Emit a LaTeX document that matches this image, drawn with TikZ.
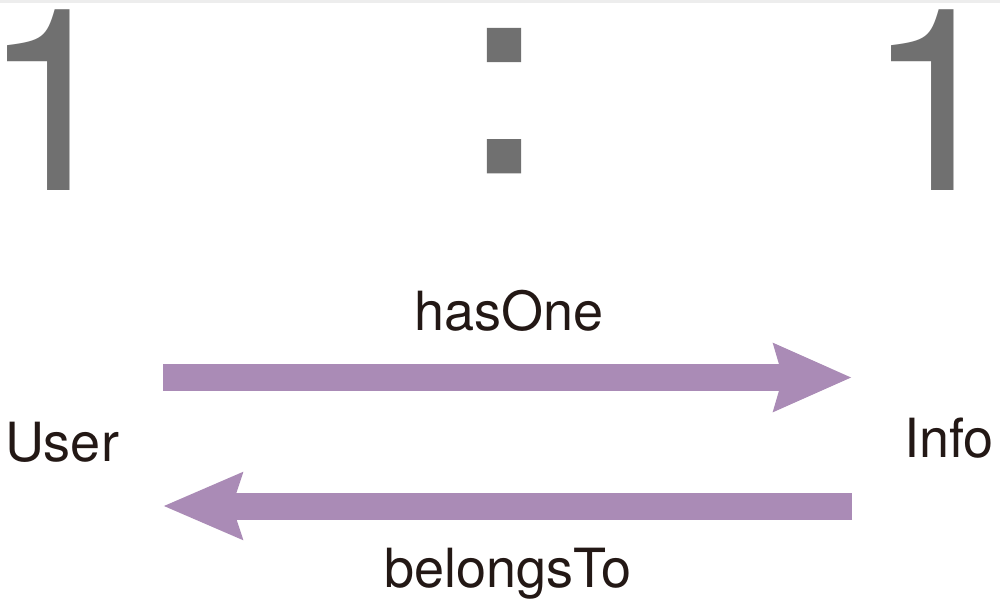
\documentclass[tikz,border=0pt]{standalone}
\usepackage{fontspec}
\setmainfont{TeX Gyre Heros}
\newfontfamily\colonfont[FakeBold=2.5]{TeX Gyre Heros}
\usetikzlibrary{arrows.meta}
\definecolor{arrowpurple}{HTML}{AA8BB6}
\definecolor{digitgray}{HTML}{707070}
\definecolor{textblack}{HTML}{231815}
\newcommand{\inkone}{\kern-28pt 1\kern-46pt}
\begin{document}
\begin{tikzpicture}[x=1pt,y=-1pt,
  digit/.style={inner sep=0pt, anchor=base west, text=digitgray, text height=182pt, text depth=0pt, font=\fontsize{255}{255}\selectfont},
  lbl/.style={inner sep=0pt, anchor=base, text=textblack, font=\fontsize{54}{54}\selectfont},
  fat/.style={draw=arrowpurple, line width=27pt}
]
\useasboundingbox (0,0) rectangle (1000,602);
\fill[white] (0,0) rectangle (1000,602);
\fill[black!7] (0,0) rectangle (1000,3);
% ratio
\node[digit] (oneL) at (9,190) {\inkone};
\node[digit, anchor=base, text height=140pt, font=\colonfont\fontsize{265}{265}\selectfont] (colon) at (504,170) {:};
\node[digit] (oneR) at (893,190) {\inkone};
% labels
\node[lbl] (hasone) at (509,330) {hasOne};
\node[lbl] (belongs) at (508,587) {belongsTo};
\node[lbl] (user) at (62,461) {User};
\node[lbl] (info) at (949,457) {Info};
% connectors
\coordinate (hStart) at (163,377.5);
\coordinate (hEnd) at (852,377.5);
\coordinate (bStart) at (852,506);
\coordinate (bEnd) at (163,506);
\draw[fat, -{Stealth[length=77pt,width=65pt,inset=8pt]}] (hStart) -- (hEnd);
\draw[fat, -{Stealth[length=78pt,width=64pt,inset=9pt]}] (bStart) -- (bEnd);
\end{tikzpicture}
\end{document}
